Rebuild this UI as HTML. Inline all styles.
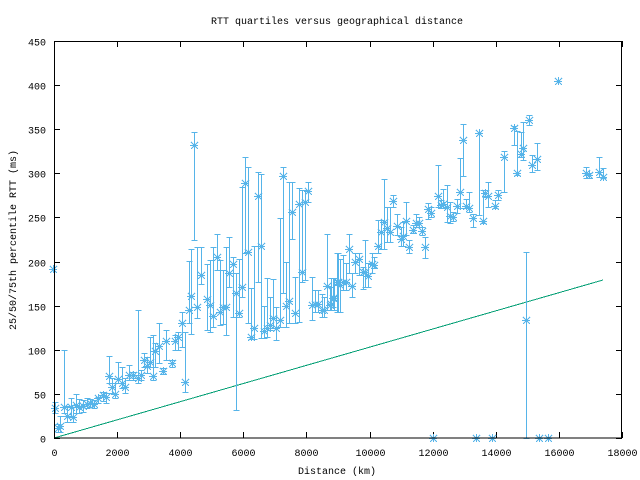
<!DOCTYPE html>
<html><head><meta charset="utf-8"><style>
html,body{margin:0;padding:0;background:#fff;}
svg{display:block;}
text{font-family:"Liberation Mono","DejaVu Sans Mono",monospace;font-size:10px;fill:#000;}
</style></head><body>
<svg id="s" width="640" height="480" xmlns="http://www.w3.org/2000/svg">
<rect x="0" y="0" width="640" height="480" fill="#fff"/>
<text x="337" y="24" text-anchor="middle">RTT quartiles versus geographical distance</text>
<text x="337" y="474" text-anchor="middle">Distance (km)</text>
<text transform="translate(16,240) rotate(-90)" text-anchor="middle">25/50/75th percentile RTT (ms)</text>
<g id="ax" shape-rendering="crispEdges"></g>
<line x1="54" y1="438" x2="603" y2="280" stroke="#009e73" stroke-width="1" shape-rendering="crispEdges"/>
<g id="d" stroke="#56b4e9" stroke-width="1" fill="none" shape-rendering="crispEdges"></g>
<rect x="54.5" y="41.5" width="567" height="396.5" fill="none" stroke="#000" stroke-width="1" shape-rendering="crispEdges"/>
</svg>
<script>
var NS="http://www.w3.org/2000/svg";
function el(p,t,a,txt){var e=document.createElementNS(NS,t);for(var k in a)e.setAttribute(k,a[k]);if(txt!==undefined)e.textContent=txt;p.appendChild(e);return e;}
var ax=document.getElementById('ax');
for(var i=0;i<=9;i++){var y=438-i*(397/9);y=Math.round(y)+0.5;
el(ax,'line',{x1:54,y1:y,x2:60,y2:y,stroke:'#000'});el(ax,'line',{x1:616,y1:y,x2:622,y2:y,stroke:'#000'});
el(ax,'text',{x:46,y:y+4,'text-anchor':'end'},String(i*50));}
for(var i=0;i<=9;i++){var x=54+i*(568/9);x=Math.round(x)+0.5;
el(ax,'line',{x1:x,y1:438,x2:x,y2:432,stroke:'#000'});el(ax,'line',{x1:x,y1:41,x2:x,y2:47,stroke:'#000'});
el(ax,'text',{x:x,y:456,'text-anchor':'middle'},String(i*2000));}
var D=[[194,145,240,132],[191,296,334,249],[189,310,323,261],[182,323,347,312],[185,382,392,332],[178,337,350,332],[175,341,350,335],[172,363,367,360],[166,341,360,330],[163,371,374,368],[159,346,363,323],[155,351,367,343],[153,376,380,335],[150,362,367,337],[147,366,373,357],[144,360,367,353],[141,375,380,370],[138,378,383,310],[133,375,380,372],[129,375,380,365],[125,387,393,378],[122,383,388,367],[118,379,383,362],[115,394,398,383],[112,387,393,378],[109,376,383,356],[106,397,403,393],[103,395,401,392],[98,398,403,397],[94,404,408,400],[90,403,407,399],[87,404,408,398],[83,406,412,400],[79,407,413,399],[76,405,413,394],[73,417,422,407],[71,407,417,398],[67,416,422,406],[64,407,413,350],[60,426,432,416],[58,428,432,424],[55,408,413,402],
[197,307,318,247],[201,275,284,247],[207,299,330,264],[210,305,332,260],[213,316,327,247],[217,257,270,234],[220,312,325,260],[223,307,324,270],[226,307,335,247],[229,273,287,237],[233,264,317,257],[236,293,410,273],[239,313,317,259],[242,287,297,187],[245,183,253,157],[248,252,323,167],[251,337,339,288],[254,328,339,246],[258,196,282,172],[261,246,338,174],[264,331,338,306],[267,328,337,278],[270,325,330,297],[273,318,328,279],[276,328,340,307],[280,320,327,218],[283,176,293,167],[286,306,327,262],[289,301,323,182],[292,212,239,182],[295,313,323,277],[299,204,322,188],[302,272,282,190],[305,202,280,190],[308,191,202,182],[312,305,320,277],[315,304,312,290],[318,304,312,290],[322,310,317,294],[324,310,317,297],[327,286,310,234],[331,304,310,278],[334,298,310,278],[338,282,312,253],
[330,305,310,287],[333,298,307,278],[337,282,312,253],[340,285,312,259],[343,282,290,255],[346,282,290,263],[349,249,273,234],[352,286,297,273],[355,262,273,253],[359,259,275,253],[363,272,289,267],[365,272,287,240],[368,276,287,263],[372,264,273,253],[374,265,268,257],[378,246,253,220],[381,232,249,220],[384,222,249,179],[387,228,242,207],[390,232,242,207],[393,201,207,195],[397,226,235,214],[401,239,246,227],[403,236,246,222],[406,221,235,202],[409,247,253,240],[413,230,233,225],[416,223,227,214],[419,223,227,217],[422,231,235,227],[425,247,258,237],[428,209,219,203],[431,213,217,207],[438,196,207,165],[441,205,208,200],[443,204,208,189],[447,207,222,185],[450,216,223,202],[453,217,221,212],[457,206,213,199],[460,192,208,158],[463,140,176,124],[466,206,208,199],[469,208,212,192],[473,218,227,214],[479,133,215,133],[483,221,223,190],[485,193,197,190],[488,196,207,182],[495,206,208,200],[498,195,200,190],[504,157,192,151],[514,128,145,126],[517,173,175,131],[521,154,157,132],[523,148,160,122],[529,120,125,115],[532,165,172,155],[537,159,170,143],[526,320,438,252],[586,173,178,167],[589,175,178,173],[599,172,177,157],[603,177,178,168]];
var S=[[53,269],[558,81],[433,438],[476,438],[492,438],[539,438],[548,438]];
var g=document.getElementById('d');var p='';
function star(x,y){p+='M'+(x-4)+' '+(y+.5)+'h8M'+(x+.5)+' '+(y-4)+'v8M'+(x-3)+' '+(y-3)+'l7 7M'+(x-3)+' '+(y+4)+'l7 -7';}
D.forEach(function(d){var x=d[0]+.5;p+='M'+x+' '+d[2]+'V'+d[3]+'M'+(x-3)+' '+(d[2]+.5)+'h6M'+(x-3)+' '+(d[3]+.5)+'h6';star(d[0],d[1]);});
S.forEach(function(s){star(s[0],s[1]);});
el(g,'path',{d:p});
</script>
</body></html>
